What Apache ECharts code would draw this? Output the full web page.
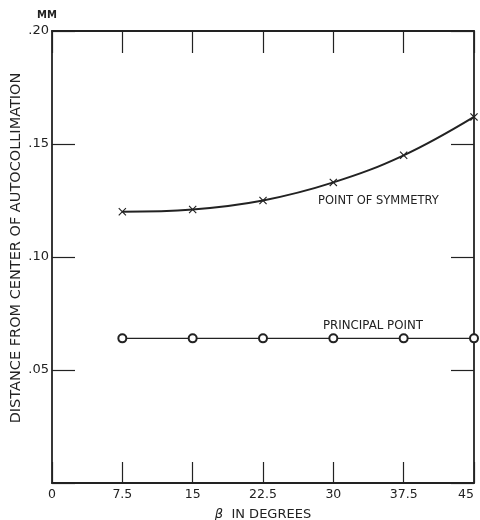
<!DOCTYPE html>
<html><head><meta charset="utf-8">
<script src="https://cdn.jsdelivr.net/npm/echarts@6/dist/echarts.min.js"></script>
<style>html,body{margin:0;padding:0;background:#fff}#c{width:480px;height:520px}</style>
</head><body><div id="c"></div>
<script>
const beta = [7.5, 15, 22.5, 30, 37.5, 45];
const symmetry = [0.120, 0.121, 0.125, 0.133, 0.145, 0.162];
const principal = [0.064, 0.064, 0.064, 0.064, 0.064, 0.064];
const xTicks = [0, 7.5, 15, 22.5, 30, 37.5, 45];
const yTickLabels = ['.05', '.10', '.15', '.20'];

const ink = '#222';
const font = 'DejaVu Sans';
const chart = echarts.init(document.getElementById('c'));
const pairs = (xs, ys) => xs.map((x, i) => [x, ys[i]]);
const crossPath = 'path://M0,1L1,0L5,4L9,0L10,1L6,5L10,9L9,10L5,6L1,10L0,9L4,5Z';
const line = { onZero: false, lineStyle: { color: ink, width: 1.8 } };

chart.setOption({
  animation: false,
  grid: { left: 52, right: 6, top: 31, bottom: 37, containLabel: false, outerBoundsMode: 'none' },
  xAxis: [{
    type: 'value', min: 0, max: 45, interval: 7.5, position: 'bottom',
    axisLine: line,
    axisTick: { inside: true, length: 21, lineStyle: { color: ink, width: 1.2 } },
    axisLabel: { color: ink, fontFamily: font, fontSize: 12.5, margin: 5, alignMaxLabel: 'right',
      formatter: v => { const t = xTicks.find(k => Math.abs(k - v) < 1e-6); return t === undefined ? '' : String(t); } },
    splitLine: { show: false },
    name: '{b|β}  IN DEGREES', nameLocation: 'middle', nameGap: 25,
    nameTextStyle: { color: ink, fontFamily: font, fontSize: 13,
      rich: { b: { fontStyle: 'italic', fontFamily: font, fontSize: 13, color: ink } } }
  }, {
    type: 'value', min: 0, max: 45, interval: 7.5, position: 'top',
    axisLine: line,
    axisTick: { inside: true, length: 22, lineStyle: { color: ink, width: 1.2 } },
    axisLabel: { show: false }, splitLine: { show: false }
  }],
  yAxis: [{
    type: 'value', min: 0, max: 0.2, interval: 0.05, position: 'left',
    axisLine: line,
    axisTick: { inside: true, length: 23, lineStyle: { color: ink, width: 1.2 } },
    axisLabel: { color: ink, fontFamily: font, fontSize: 13, margin: 3,
      formatter: v => { const i = Math.round(v / 0.05) - 1; return i >= 0 ? yTickLabels[i] : ''; } },
    splitLine: { show: false }
  }, {
    type: 'value', min: 0, max: 0.2, interval: 0.05, position: 'right',
    axisLine: line,
    axisTick: { inside: true, length: 23, lineStyle: { color: ink, width: 1.2 } },
    axisLabel: { show: false }, splitLine: { show: false }
  }],
  series: [{
    type: 'line', data: pairs(beta, symmetry), smooth: 0.4,
    symbol: crossPath, symbolSize: 8,
    lineStyle: { color: ink, width: 2 },
    itemStyle: { color: ink }
  }, {
    type: 'line', data: pairs(beta, principal),
    symbol: 'emptyCircle', symbolSize: 8,
    lineStyle: { color: ink, width: 1.3 },
    itemStyle: { color: ink, borderColor: ink, borderWidth: 1.2 }
  }],
  graphic: [
    { type: 'text', x: 16, y: 248, rotation: Math.PI / 2,
      style: { text: 'DISTANCE FROM CENTER OF AUTOCOLLIMATION', fill: ink, font: '14.5px ' + font,
        align: 'center', verticalAlign: 'middle' } },
    { type: 'text', left: 37, top: 10, style: { text: 'MM', fill: ink, font: 'bold 10px ' + font } },
    { type: 'text', left: 318, top: 195, style: { text: 'POINT OF SYMMETRY', fill: ink, font: '11.5px ' + font } },
    { type: 'text', left: 323, top: 320, style: { text: 'PRINCIPAL POINT', fill: ink, font: '11.8px ' + font } }
  ]
});
</script>
</body></html>
